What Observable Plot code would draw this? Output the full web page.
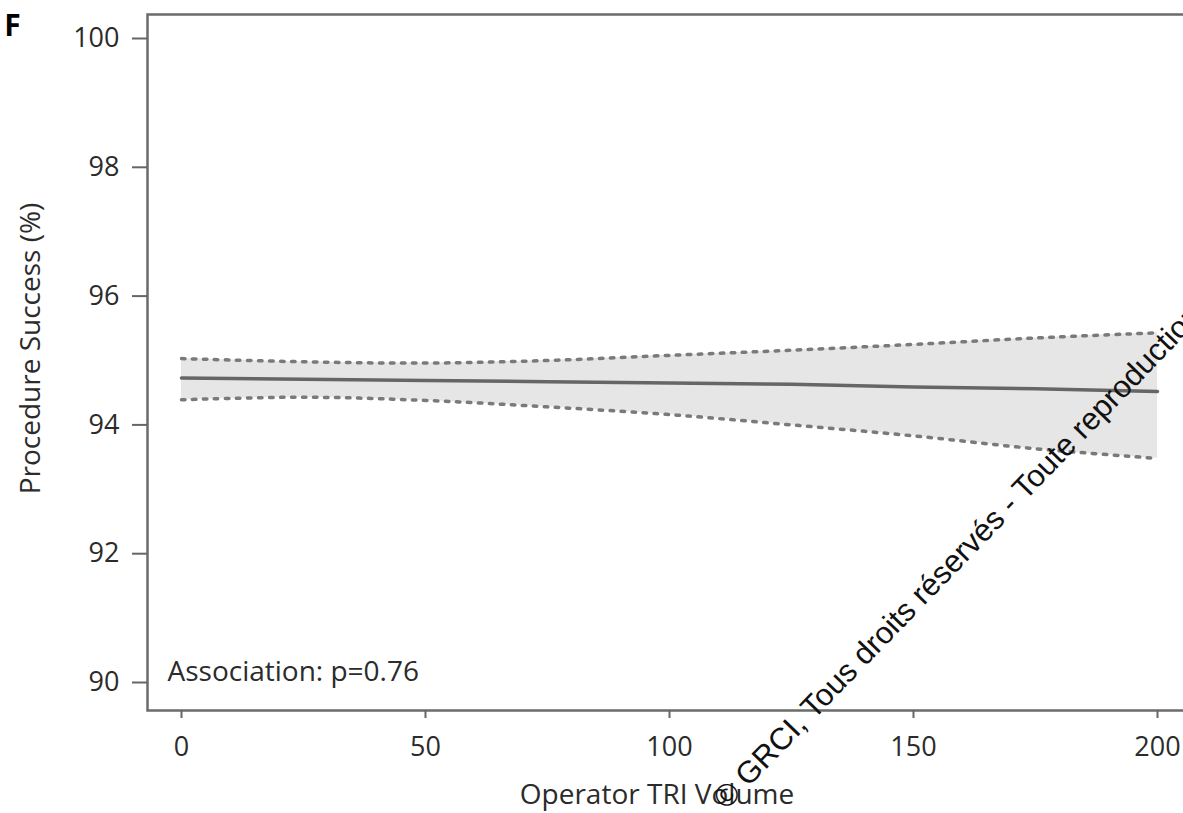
<!DOCTYPE html>
<html>
<head>
<meta charset="utf-8">
<script src="https://cdn.jsdelivr.net/npm/d3@7"></script>
<script src="https://cdn.jsdelivr.net/npm/@observablehq/plot@0.6"></script>
<style>
  html, body { margin: 0; padding: 0; background: #fff; overflow: hidden; width: 1183px; height: 813px; }
  #chart { position: absolute; left: 0; top: 0; }
  #chart svg { max-width: none !important; }
</style>
</head>
<body>
<div id="chart"></div>
<script>
// Operator TRI volume (x) and procedure success (%) estimates
const volume = [0, 25, 50, 75, 100, 125, 150, 175, 200];
const fitted = [94.73, 94.71, 94.69, 94.67, 94.65, 94.63, 94.59, 94.56, 94.52];
const upperCI = [95.03, 94.98, 94.96, 95.00, 95.08, 95.16, 95.25, 95.35, 95.43];
const lowerCI = [94.39, 94.43, 94.38, 94.28, 94.16, 94.00, 93.83, 93.63, 93.48];
const xTicks = [0, 50, 100, 150, 200];
const yTicks = [90, 92, 94, 96, 98, 100];

const data = volume.map((v, i) => ({volume: v, fit: fitted[i], lo: lowerCI[i], hi: upperCI[i]}));

const chart = Plot.plot({
  width: 1200,
  height: 813,
  marginLeft: 147,
  marginRight: 0,
  marginTop: 14,
  marginBottom: 103,
  style: {fontFamily: "'Open Sans', sans-serif", fontSize: "27px", color: "#2b2b2b", background: "transparent", maxWidth: "none"},
  x: {domain: [0, 200], range: [181, 1157]},
  y: {domain: [90, 100], range: [682, 38]},
  marks: [
    Plot.areaY(data, {x: "volume", y1: "lo", y2: "hi", fill: "#e6e6e6", curve: "catmull-rom"}),
    Plot.line(data, {x: "volume", y: "hi", stroke: "#7a7a7a", strokeWidth: 3.5, strokeDasharray: "3.5 7.5", curve: "catmull-rom"}),
    Plot.line(data, {x: "volume", y: "lo", stroke: "#7a7a7a", strokeWidth: 3.5, strokeDasharray: "3.5 7.5", curve: "catmull-rom"}),
    Plot.line(data, {x: "volume", y: "fit", stroke: "#666", strokeWidth: 3.5}),
    Plot.frame({stroke: "#6b6b6b", strokeWidth: 2.5}),
    Plot.axisY({ticks: yTicks, tickSize: 15, tickPadding: 13, label: null, stroke: "#666", strokeWidth: 2, fill: "#2b2b2b"}),
    Plot.axisX({ticks: xTicks, tickSize: 8, tickPadding: 18, label: null, stroke: "#666", strokeWidth: 2, fill: "#2b2b2b"}),
    Plot.text(["Procedure Success (%)"], {frameAnchor: "left", dx: -116, dy: -14, rotate: -90, textAnchor: "middle", lineAnchor: "middle", fill: "#2b2b2b", fontSize: 28}),
    Plot.text(["Operator TRI Volume"], {frameAnchor: "bottom", dx: -17, dy: 85, textAnchor: "middle", lineAnchor: "middle", fill: "#2b2b2b", fontSize: 28}),
    Plot.text(["Association: p=0.76"], {frameAnchor: "bottom-left", dx: 20, dy: -38, textAnchor: "start", lineAnchor: "middle", fill: "#2b2b2b", fontSize: 28}),
    Plot.text(["F"], {frameAnchor: "top-left", dx: -135, dy: 0, textAnchor: "middle", lineAnchor: "top", fill: "#000", fontSize: 30, fontWeight: "bold"}),
    Plot.text(["© GRCI, Tous droits réservés - Toute reproduction interdite"], {frameAnchor: "bottom-left", dx: 579, dy: 100, rotate: -46, textAnchor: "start", lineAnchor: "bottom", fill: "#111", fontSize: 31, fontFamily: "'Liberation Sans', Arial, sans-serif"})
  ]
});
document.getElementById("chart").appendChild(chart);
</script>
</body>
</html>
